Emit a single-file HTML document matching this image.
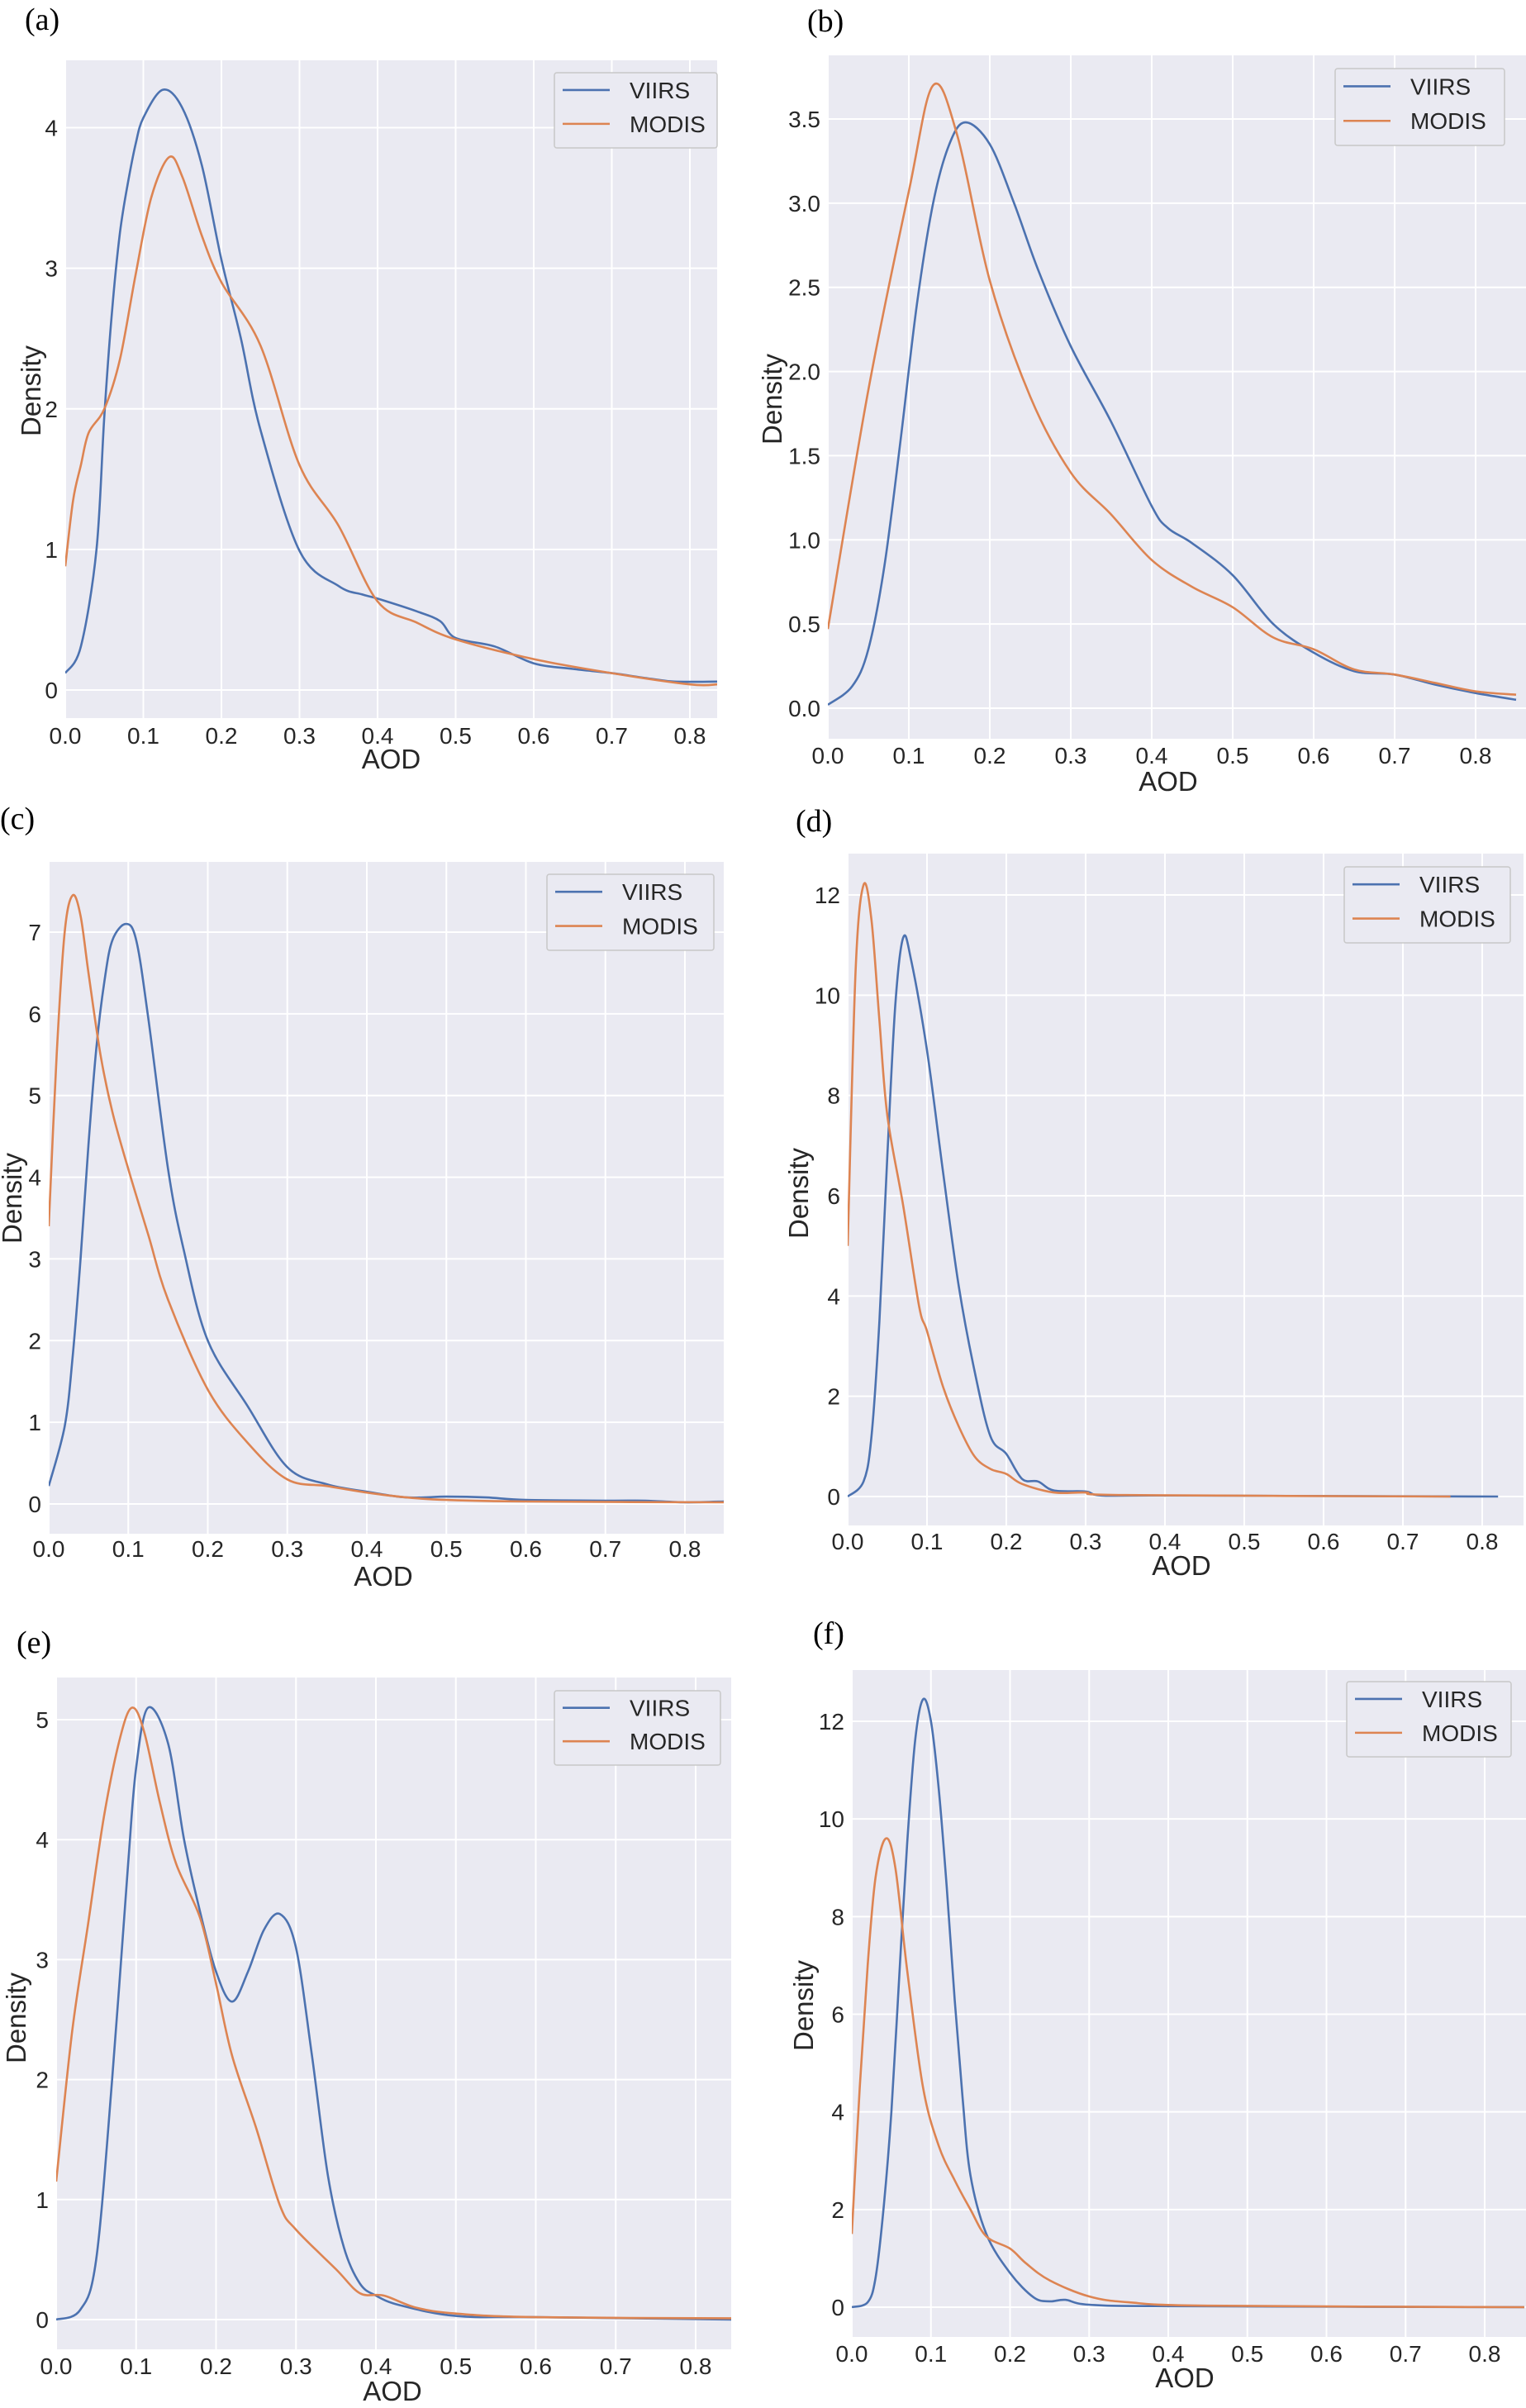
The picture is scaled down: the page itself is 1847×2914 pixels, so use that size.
<!DOCTYPE html>
<html><head><meta charset="utf-8">
<style>
html,body{margin:0;padding:0;background:#fff;}
svg text{font-family:"Liberation Sans",sans-serif;}
</style></head>
<body>
<svg id="fig" width="1847" height="2909" viewBox="0 0 1847 2909" xmlns="http://www.w3.org/2000/svg"></svg>
<script>
// ---- data (AOD, density) ----
const aX_viirs=[0,0.02,0.04,0.05,0.06,0.07,0.08,0.09,0.1,0.125,0.15,0.175,0.2,0.225,0.25,0.3,0.35,0.38,0.4,0.45,0.48,0.5,0.55,0.6,0.65,0.7,0.75,0.78,0.835];
const aY_viirs=[0.12,0.31,1.0,1.95,2.7,3.25,3.6,3.88,4.07,4.27,4.14,3.73,3.06,2.5,1.85,0.99,0.74,0.68,0.65,0.56,0.49,0.37,0.31,0.19,0.15,0.12,0.08,0.06,0.06];
const aX_modis=[0,0.01,0.02,0.03,0.05,0.07,0.09,0.11,0.133,0.15,0.175,0.2,0.25,0.3,0.35,0.4,0.45,0.5,0.6,0.7,0.8,0.835];
const aY_modis=[0.88,1.35,1.6,1.83,2.0,2.35,2.95,3.5,3.79,3.65,3.23,2.9,2.45,1.6,1.17,0.63,0.48,0.36,0.22,0.12,0.04,0.04];

const bX_viirs=[0,0.03,0.05,0.07,0.09,0.11,0.13,0.15,0.17,0.2,0.23,0.26,0.3,0.35,0.4,0.42,0.45,0.5,0.55,0.6,0.65,0.7,0.75,0.8,0.85];
const bY_viirs=[0.02,0.13,0.35,0.85,1.6,2.4,3.0,3.35,3.48,3.35,3.0,2.6,2.15,1.7,1.2,1.07,0.98,0.79,0.5,0.33,0.22,0.2,0.14,0.09,0.05];
const bX_modis=[0,0.05,0.1,0.13,0.16,0.2,0.25,0.3,0.35,0.4,0.45,0.5,0.55,0.6,0.65,0.7,0.75,0.8,0.85];
const bY_modis=[0.47,1.89,3.07,3.7,3.4,2.54,1.85,1.4,1.15,0.88,0.72,0.6,0.42,0.35,0.23,0.2,0.15,0.1,0.08];

const cX_viirs=[0,0.02,0.03,0.04,0.05,0.06,0.07,0.08,0.097,0.11,0.125,0.15,0.17,0.2,0.25,0.3,0.35,0.4,0.45,0.5,0.55,0.6,0.7,0.75,0.8,0.85];
const cY_viirs=[0.22,0.95,1.8,3.0,4.4,5.6,6.4,6.9,7.1,6.9,5.96,4.1,3.1,2.0,1.2,0.45,0.24,0.15,0.08,0.09,0.08,0.05,0.04,0.04,0.02,0.03];
const cX_modis=[0,0.01,0.02,0.03,0.04,0.05,0.065,0.08,0.1,0.125,0.15,0.2,0.25,0.3,0.35,0.4,0.45,0.5,0.6,0.85];
const cY_modis=[3.4,5.5,7.0,7.45,7.2,6.5,5.5,4.8,4.1,3.3,2.5,1.4,0.75,0.3,0.22,0.14,0.08,0.05,0.03,0.02];

const dX_viirs=[0,0.02,0.03,0.04,0.05,0.06,0.07,0.08,0.1,0.12,0.14,0.16,0.18,0.2,0.22,0.24,0.26,0.3,0.32,0.4,0.82];
const dY_viirs=[0,0.3,1.2,3.5,6.8,9.8,11.15,10.7,8.9,6.5,4.2,2.5,1.2,0.85,0.35,0.3,0.12,0.1,0.02,0.02,0];
const dX_modis=[0,0.01,0.02,0.03,0.04,0.05,0.07,0.09,0.1,0.12,0.14,0.16,0.18,0.2,0.22,0.26,0.3,0.35,0.76];
const dY_modis=[5.0,10.5,12.2,11.5,9.5,7.6,5.8,3.8,3.3,2.2,1.4,0.8,0.55,0.45,0.25,0.08,0.08,0.03,0];

const eX_viirs=[0,0.03,0.05,0.07,0.09,0.1,0.115,0.14,0.16,0.18,0.2,0.22,0.24,0.26,0.28,0.3,0.32,0.34,0.36,0.38,0.4,0.43,0.5,0.6,0.85];
const eY_viirs=[0,0.08,0.5,2.0,3.8,4.6,5.1,4.8,4.0,3.4,2.9,2.65,2.9,3.25,3.38,3.1,2.2,1.2,0.6,0.3,0.2,0.12,0.03,0.02,0];
const eX_modis=[0,0.02,0.04,0.06,0.08,0.095,0.11,0.13,0.15,0.18,0.2,0.22,0.25,0.28,0.3,0.35,0.38,0.41,0.45,0.5,0.6,0.85];
const eY_modis=[1.15,2.4,3.3,4.2,4.85,5.1,4.9,4.3,3.8,3.35,2.8,2.2,1.6,0.95,0.75,0.42,0.22,0.2,0.1,0.05,0.02,0.01];

const fX_viirs=[0,0.02,0.03,0.04,0.05,0.06,0.07,0.08,0.09,0.1,0.11,0.12,0.13,0.14,0.15,0.17,0.2,0.23,0.25,0.27,0.3,0.4,0.85];
const fY_viirs=[0,0.1,0.6,2.0,4.0,6.8,9.5,11.6,12.45,12.0,10.6,8.6,6.3,4.3,2.7,1.5,0.7,0.2,0.12,0.15,0.05,0.02,0];
const fX_modis=[0,0.01,0.02,0.03,0.043,0.055,0.07,0.09,0.11,0.13,0.15,0.17,0.2,0.22,0.25,0.3,0.35,0.45,0.85];
const fY_modis=[1.5,4.5,7.0,8.8,9.6,9.0,6.9,4.5,3.3,2.6,2.0,1.45,1.2,0.9,0.55,0.22,0.1,0.03,0];

const xTicks=[0,0.1,0.2,0.3,0.4,0.5,0.6,0.7,0.8];
const xTickLabels=["0.0","0.1","0.2","0.3","0.4","0.5","0.6","0.7","0.8"];
const aYTicks=[0,1,2,3,4];
const bYTicks=[0,0.5,1,1.5,2,2.5,3,3.5];
const cYTicks=[0,1,2,3,4,5,6,7];
const dYTicks=[0,2,4,6,8,10,12];
const eYTicks=[0,1,2,3,4,5];
const fYTicks=[0,2,4,6,8,10,12];
const seriesNames=["VIIRS","MODIS"];

// ---- layout (geometry only) ----
const panels=[
 {id:"a",L:79,R:868,T:73,B:869,x0:79,x8:835,y0:835,yk:4,yKpx:154.5,yt:aYTicks,fmt:0,vx:aX_viirs,vy:aY_viirs,mx:aX_modis,my:aY_modis,
  lg:[671,88,868,179],lab:[30,36],tickB:900,aodB:930,dens:[38,473]},
 {id:"b",L:1002,R:1847,T:67,B:894,x0:1002,x8:1786,y0:857,yk:3.5,yKpx:144,yt:bYTicks,fmt:1,vx:bX_viirs,vy:bY_viirs,mx:bX_modis,my:bY_modis,
  lg:[1616,83,1821,176],lab:[977,38],tickB:924,aodB:957,dens:[935,483]},
 {id:"c",L:59,R:876,T:1043,B:1856,x0:59,x8:829,y0:1820,yk:7,yKpx:1128,yt:cYTicks,fmt:0,vx:cX_viirs,vy:cY_viirs,mx:cX_modis,my:cY_modis,
  lg:[662,1058,864,1150],lab:[0,1003],tickB:1884,aodB:1919,dens:[15,1450]},
 {id:"d",L:1026,R:1844,T:1033,B:1846,x0:1026,x8:1794,y0:1811,yk:12,yKpx:1083,yt:dYTicks,fmt:0,vx:dX_viirs,vy:dY_viirs,mx:dX_modis,my:dY_modis,
  lg:[1627,1049,1828,1141],lab:[963,1006],tickB:1875,aodB:1906,dens:[967,1444]},
 {id:"e",L:68,R:885,T:2030,B:2843,x0:68,x8:842,y0:2807,yk:5,yKpx:2081,yt:eYTicks,fmt:0,vx:eX_viirs,vy:eY_viirs,mx:eX_modis,my:eY_modis,
  lg:[671,2046,872,2136],lab:[20,2000],tickB:2873,aodB:2905,dens:[20,2442]},
 {id:"f",L:1031,R:1847,T:2021,B:2828,x0:1031,x8:1797,y0:2792,yk:12,yKpx:2083,yt:fYTicks,fmt:0,vx:fX_viirs,vy:fY_viirs,mx:fX_modis,my:fY_modis,
  lg:[1630,2035,1829,2126],lab:[984,1989],tickB:2858,aodB:2889,dens:[973,2427]}
];
const NS="http://www.w3.org/2000/svg";
const svg=document.getElementById("fig");
function mk(tag,attrs,parent){const e=document.createElementNS(NS,tag);for(const k in attrs)e.setAttribute(k,attrs[k]);(parent||svg).appendChild(e);return e;}
function smooth(pts){
  let d="M"+pts[0][0].toFixed(1)+","+pts[0][1].toFixed(1);
  for(let i=0;i<pts.length-1;i++){
    const p0=pts[Math.max(0,i-1)],p1=pts[i],p2=pts[i+1],p3=pts[Math.min(pts.length-1,i+2)];
    const c1x=p1[0]+(p2[0]-p0[0])/6,c1y=p1[1]+(p2[1]-p0[1])/6;
    const c2x=p2[0]-(p3[0]-p1[0])/6,c2y=p2[1]-(p3[1]-p1[1])/6;
    d+=" C"+c1x.toFixed(1)+","+c1y.toFixed(1)+" "+c2x.toFixed(1)+","+c2y.toFixed(1)+" "+p2[0].toFixed(1)+","+p2[1].toFixed(1);
  }
  return d;
}
panels.forEach(p=>{
  const g=mk("g",{});
  
  
  const xs=v=>p.x0+(p.x8-p.x0)*v/0.8;
  const ys=v=>p.y0-(p.y0-p.yKpx)*v/p.yk;
  const bg=mk("rect",{x:p.L,y:p.T,width:p.R-p.L,height:p.B-p.T,fill:"#EAEAF2"},g);
  
  
  const clip=mk("clipPath",{id:"clip"+p.id},g);
  mk("rect",{x:p.L,y:p.T,width:p.R-p.L,height:p.B-p.T},clip);
  xTicks.forEach((t,i)=>{
    const X=xs(t);
    const gl=mk("line",{x1:X,x2:X,y1:p.T,y2:p.B,stroke:"#fff","stroke-width":2},g);
    
    
    const tl=mk("text",{x:X,y:p.tickB,"font-size":28,"text-anchor":"middle",fill:"#262626"},g);
    tl.textContent=xTickLabels[i];
    
    
  });
  p.yt.forEach(t=>{
    const Y=ys(t);
    const gl=mk("line",{x1:p.L,x2:p.R,y1:Y,y2:Y,stroke:"#fff","stroke-width":2},g);
    
    
    const tl=mk("text",{x:p.L-9,y:Y+10,"font-size":28,"text-anchor":"end",fill:"#262626"},g);
    tl.textContent=p.fmt?t.toFixed(1):String(t);
    
    
  });
  const series=[[p.vx,p.vy,"#4C72B0","viirs-line"],[p.mx,p.my,"#DD8452","modis-line"]];
  series.forEach(s=>{
    const pts=s[0].map((x,i)=>[xs(x),ys(s[1][i])]);
    const path=mk("path",{d:smooth(pts),fill:"none",stroke:s[2],"stroke-width":2.6,"clip-path":"url(#clip"+p.id+")","stroke-linejoin":"round"},g);
    
    
  });
  const [lx1,ly1,lx2,ly2]=p.lg;
  const lg=mk("g",{},g);
  
  
  mk("rect",{x:lx1,y:ly1,width:lx2-lx1,height:ly2-ly1,rx:3,fill:"#EAEAF2",stroke:"#c8c8c8","stroke-width":1.5},lg);
  const lh=ly2-ly1;
  seriesNames.forEach((n,i)=>{
    const yy=ly1+lh*(i===0?0.23:0.68);
    mk("line",{x1:lx1+10,x2:lx1+67,y1:yy,y2:yy,stroke:i===0?"#4C72B0":"#DD8452","stroke-width":2.6},lg);
    const t=mk("text",{x:lx1+91,y:yy+10,"font-size":28,fill:"#262626"},lg);
    t.textContent=n;
    
    
  });
  const at=mk("text",{x:(p.L+Math.min(p.R,p.x8+40))/2,y:p.aodB,"font-size":33,"text-anchor":"middle",fill:"#262626"},g);
  at.textContent="AOD";
  
  
  const dt=mk("text",{x:0,y:0,"font-size":33,"text-anchor":"middle",fill:"#262626",transform:"translate("+(p.dens[0]+11)+","+p.dens[1]+") rotate(-90)"},g);
  dt.textContent="Density";
  
  
  const lb=mk("text",{x:p.lab[0],y:p.lab[1],"font-size":38,fill:"#000"},g);
  lb.setAttribute("style","font-family:'Liberation Serif',serif");
  lb.textContent="("+p.id+")";
  
  
});
</script>
</body></html>
